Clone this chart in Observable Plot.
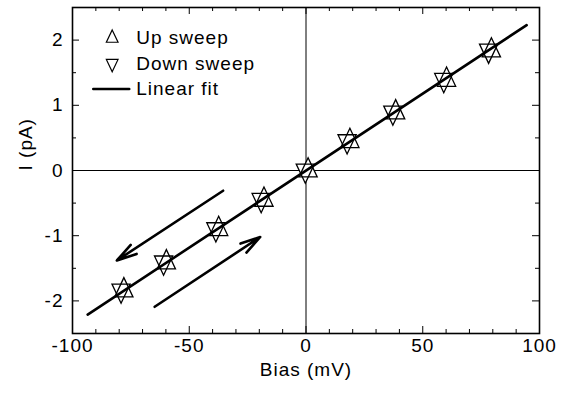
<!DOCTYPE html>
<html>
<head>
<meta charset="utf-8">
<script src="https://cdn.jsdelivr.net/npm/d3@7"></script>
<script src="https://cdn.jsdelivr.net/npm/@observablehq/plot@0.6"></script>
<style>
  html, body { margin: 0; padding: 0; background: #fff; }
</style>
</head>
<body>
<div id="chart"></div>
<script>
// ---- data ----
const biasDown = [-79.2, -61.0, -38.6, -19.2, -0.3, 17.6, 37.2, 59.0, 78.2];
const currentDown = [-1.84, -1.41, -0.90, -0.45, 0.00, 0.45, 0.89, 1.39, 1.84];
const biasUp = [-78.0, -59.8, -37.4, -18.0, 0.9, 18.8, 38.4, 60.2, 79.4];
const currentUp = [-1.84, -1.41, -0.90, -0.45, 0.00, 0.45, 0.89, 1.39, 1.84];
const fitBias = [-93.5, 94.5];
const fitCurrent = [-2.21, 2.23];
// sweep-direction arrows: start -> end
const arrowBias1 = [-35.5, -64.8];
const arrowCurrent1 = [-0.31, -2.09];
const arrowBias2 = [-81.0, -19.6];
const arrowCurrent2 = [-1.38, -1.02];
const xTicks = [-100, -50, 0, 50, 100];
const xMinorTicks = [-90, -80, -70, -60, -40, -30, -20, -10, 10, 20, 30, 40, 60, 70, 80, 90];
const yTicks = [-2, -1, 0, 1, 2];
const yMinorTicks = [-1.5, -0.5, 0.5, 1.5];
const legendLabels = ["Up sweep", "Down sweep", "Linear fit"];
const xLabel = "Bias (mV)";
const yLabel = "I (pA)";

// ---- layout ----
const W = 565, H = 393;
const mL = 72, mR = 26, mT = 7, mB = 60;
const frameW = W - mL - mR, frameH = H - mT - mB;
const majorLen = 7, minorLen = 4;
const legendRowY = [2.03, 1.64, 1.25];
const legendSymX = -83;
const legendTextX = -72.7;
const legendLineX = [-91.1, -75.7];

function tri(dir) {
  return {
    draw(ctx, size) {
      const r = Math.sqrt(size / Math.PI);
      const hw = r * 1.3, h = r * 2.75;
      if (dir > 0) {
        ctx.moveTo(0, -2 * h / 3);
        ctx.lineTo(hw, h / 3);
        ctx.lineTo(-hw, h / 3);
      } else {
        ctx.moveTo(0, 2 * h / 3);
        ctx.lineTo(hw, -h / 3);
        ctx.lineTo(-hw, -h / 3);
      }
      ctx.closePath();
    }
  };
}
const upTri = tri(1), downTri = tri(-1);

const downData = biasDown.map((b, i) => ({b, c: currentDown[i]}));
const upData = biasUp.map((b, i) => ({b, c: currentUp[i]}));
const fitData = fitBias.map((b, i) => ({b, c: fitCurrent[i]}));
const arrows = arrowBias1.map((b, i) => ({x1: b, y1: arrowCurrent1[i], x2: arrowBias2[i], y2: arrowCurrent2[i]}));
const legendRows = legendLabels.map((t, i) => ({t, y: legendRowY[i]}));
const legendLine = legendLineX.map(x => ({x, y: legendRowY[2]}));

const ink = "#000";

const chart = Plot.plot({
  width: W, height: H,
  marginLeft: mL, marginRight: mR, marginTop: mT, marginBottom: mB,
  style: {fontFamily: "'Liberation Sans', Arial, Helvetica, sans-serif", fontSize: "19px", letterSpacing: "1px", color: ink, background: "#fff"},
  x: {domain: [-100, 100], axis: null},
  y: {domain: [-2.5, 2.5], axis: null},
  marks: [
    // zero lines
    Plot.ruleY([0], {stroke: ink, strokeWidth: 1}),
    Plot.ruleX([0], {stroke: ink, strokeWidth: 1}),
    // inward ticks: bottom / top
    Plot.ruleX(xTicks, {x: d => d, insetTop: frameH - majorLen, stroke: ink, strokeWidth: 1}),
    Plot.ruleX(xTicks, {x: d => d, insetBottom: frameH - majorLen, stroke: ink, strokeWidth: 1}),
    Plot.ruleX(xMinorTicks, {x: d => d, insetTop: frameH - minorLen, stroke: ink, strokeWidth: 1}),
    Plot.ruleX(xMinorTicks, {x: d => d, insetBottom: frameH - minorLen, stroke: ink, strokeWidth: 1}),
    // inward ticks: left / right
    Plot.ruleY(yTicks, {y: d => d, insetRight: frameW - majorLen, stroke: ink, strokeWidth: 1}),
    Plot.ruleY(yTicks, {y: d => d, insetLeft: frameW - majorLen, stroke: ink, strokeWidth: 1}),
    Plot.ruleY(yMinorTicks, {y: d => d, insetRight: frameW - minorLen, stroke: ink, strokeWidth: 1}),
    Plot.ruleY(yMinorTicks, {y: d => d, insetLeft: frameW - minorLen, stroke: ink, strokeWidth: 1}),
    // tick labels
    Plot.axisX(xTicks, {tickSize: 0, tickPadding: 5, tickFormat: d => String(d), label: null, fill: ink, fontSize: 19}),
    Plot.axisY(yTicks, {tickSize: 0, tickPadding: 9, tickFormat: d => String(d), label: null, fill: ink, fontSize: 19}),
    // axis titles
    Plot.text([xLabel], {text: d => d, frameAnchor: "bottom", dy: 42, fontSize: 19, fill: ink}),
    Plot.text([yLabel], {text: d => d, frameAnchor: "left", dx: -47, rotate: -90, fontSize: 19, fill: ink}),
    // marker backgrounds
    Plot.dot(downData, {x: "b", y: "c", symbol: downTri, r: 7, fill: "#fff", stroke: "none"}),
    Plot.dot(upData, {x: "b", y: "c", symbol: upTri, r: 7, fill: "#fff", stroke: "none"}),
    // marker outlines
    Plot.dot(downData, {x: "b", y: "c", symbol: downTri, r: 7, fill: "none", stroke: ink, strokeWidth: 1.3}),
    Plot.dot(upData, {x: "b", y: "c", symbol: upTri, r: 7, fill: "none", stroke: ink, strokeWidth: 1.3}),
    // linear fit
    Plot.line(fitData, {x: "b", y: "c", stroke: ink, strokeWidth: 2.6}),
    // sweep arrows
    Plot.arrow(arrows, {x1: "x1", y1: "y1", x2: "x2", y2: "y2", stroke: ink, strokeWidth: 2.6, headLength: 12, headAngle: 30}),
    // legend
    Plot.dot([legendRows[0]], {x: legendSymX, y: "y", symbol: upTri, r: 4.5, fill: "none", stroke: ink, strokeWidth: 1.2}),
    Plot.dot([legendRows[1]], {x: legendSymX, y: "y", symbol: downTri, r: 4.5, fill: "none", stroke: ink, strokeWidth: 1.2}),
    Plot.line(legendLine, {x: "x", y: "y", stroke: ink, strokeWidth: 2.6}),
    Plot.text(legendRows, {x: legendTextX, y: "y", text: "t", textAnchor: "start", lineAnchor: "middle", fill: ink, fontSize: 19}),
    // frame
    Plot.frame({stroke: ink, strokeWidth: 1.6})
  ]
});
document.getElementById("chart").appendChild(chart);
</script>
</body>
</html>
